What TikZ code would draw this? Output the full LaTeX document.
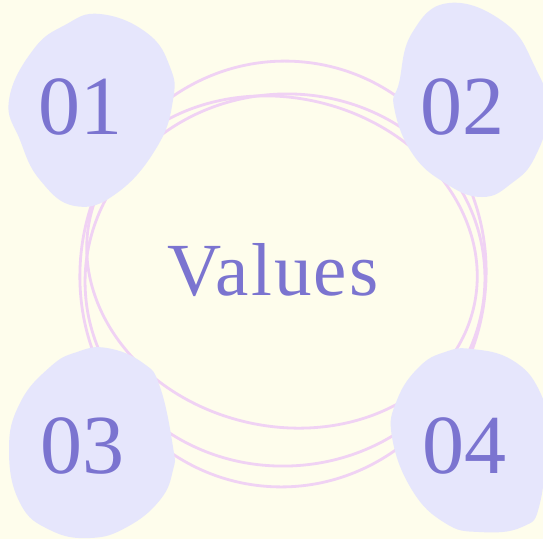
\documentclass[tikz,border=0pt]{standalone}
\usepackage{fontspec}
\setmainfont{Liberation Serif}
\definecolor{bgc}{HTML}{FEFDEC}
\definecolor{blobc}{HTML}{E6E6FC}
\definecolor{txtc}{HTML}{7B74D0}
\definecolor{linec}{HTML}{F0D2F4}
\begin{document}
\begin{tikzpicture}[x=1pt,y=-1pt,
  blob/.style={fill=blobc,draw=none},
  loopline/.style={draw=linec,line width=2.8pt},
  num/.style={text=txtc,font=\fontsize{84}{84}\selectfont,inner sep=0pt},
  title/.style={text=txtc,font=\fontsize{75}{75}\selectfont,inner sep=0pt}]
\useasboundingbox[fill=bgc] (0,0) rectangle (543,539);
% loops
\draw[loopline,rotate around={-6:(283,274)}] (283,274) ellipse [x radius=203, y radius=213];
\draw[loopline,rotate around={4:(285,280)}] (285,280) ellipse [x radius=200, y radius=186];
\draw[loopline,rotate around={-14:(282,262)}] (282,262) ellipse [x radius=197, y radius=164];
% blobs
\fill[blob] plot[smooth cycle,tension=0.75] coordinates {(100,14) (147,33) (170,67) (173,100) (157,147) (117,193) (75,206) (40,180) (20,140) (9,100) (33,50) (65,25)};
\fill[blob] plot[smooth cycle,tension=0.75] coordinates {(449,3) (505,23) (535,67) (548,110) (535,157) (512,183) (482,197) (445,183) (412,153) (394,107) (399,83) (412,33)};
\fill[blob] plot[smooth cycle,tension=0.75] coordinates {(107,348) (143,363) (160,387) (173,447) (173,470) (160,500) (127,527) (90,538) (50,530) (20,503) (9,450) (20,403) (50,367) (77,352)};
\fill[blob] plot[smooth cycle,tension=0.75] coordinates {(472,349) (512,360) (539,390) (546,430) (540,503) (522,527) (479,532) (445,523) (412,490) (392,437) (397,400) (419,367) (445,352)};
% texts
\node[num] (n1) at (80,107) {01};
\node[num] (n2) at (462,107) {02};
\node[num] (n3) at (82,446) {03};
\node[num] (n4) at (464,446) {04};
\node[title] (val) at (273,270) {\addfontfeature{LetterSpace=3}Values};
\end{tikzpicture}
\end{document}
